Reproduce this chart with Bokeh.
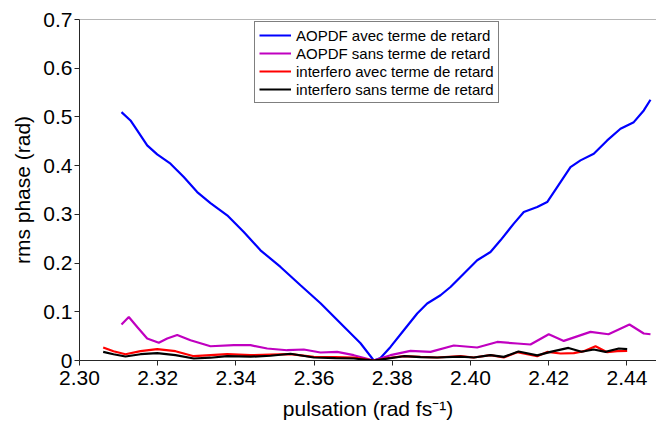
from bokeh.plotting import figure
from bokeh.models import Range1d, Span, Legend, LegendItem, FixedTicker
from bokeh.embed import file_html
from bokeh.resources import INLINE

# AOPDF avec terme de retard
blue_x = [2.31074, 2.31304, 2.31476, 2.31731, 2.31987, 2.32327, 2.32667, 2.33010, 2.33350,
          2.33777, 2.34202, 2.34629, 2.35141, 2.35652, 2.36164, 2.36675, 2.37187, 2.37527,
          2.37698, 2.37954, 2.38294, 2.38637, 2.38892, 2.39233, 2.39488, 2.39744, 2.40171,
          2.40511, 2.40767, 2.41107, 2.41363, 2.41706, 2.41961, 2.42217, 2.42557, 2.42813,
          2.43153, 2.43496, 2.43836, 2.44176, 2.44432, 2.44603]
blue_y = [0.5098, 0.4928, 0.4723, 0.4416, 0.4231, 0.4040, 0.3765, 0.3458, 0.3232,
          0.2980, 0.2637, 0.2262, 0.1920, 0.1544, 0.1175, 0.0765, 0.0355, 0.0,
          0.0053, 0.0279, 0.0621, 0.0964, 0.1169, 0.1339, 0.1509, 0.1715, 0.2057,
          0.2227, 0.2467, 0.2810, 0.3048, 0.3150, 0.3253, 0.3560, 0.3970, 0.4108,
          0.4245, 0.4518, 0.4758, 0.4893, 0.5133, 0.5353]

# AOPDF sans terme de retard
mag_x = [2.31074, 2.31261, 2.31476, 2.31731, 2.32028, 2.32243, 2.32499, 2.32839, 2.33350,
         2.33946, 2.34373, 2.34800, 2.35312, 2.35736, 2.36164, 2.36591, 2.37015, 2.37527,
         2.37954, 2.38465, 2.38977, 2.39573, 2.40171, 2.40683, 2.41194, 2.41534, 2.42002,
         2.42386, 2.43069, 2.43529, 2.44066, 2.44432, 2.44603]
mag_y = [0.0738, 0.0894, 0.0689, 0.0451, 0.0365, 0.0451, 0.0525, 0.0416, 0.0293,
         0.0314, 0.0314, 0.0246, 0.0211, 0.0226, 0.0164, 0.0176, 0.0109, 0.0,
         0.0109, 0.0197, 0.0176, 0.0308, 0.0267, 0.0381, 0.0349, 0.0328, 0.0539,
         0.0402, 0.0587, 0.0539, 0.0738, 0.0554, 0.0539]

# interfero avec terme de retard
red_x = [2.30606, 2.30870, 2.31176, 2.31560, 2.31987, 2.32455, 2.32923, 2.33350, 2.33777,
         2.34373, 2.34885, 2.35396, 2.35992, 2.36547, 2.37015, 2.37527, 2.37954, 2.38294,
         2.38721, 2.39148, 2.39744, 2.40084, 2.40511, 2.40851, 2.41194, 2.41706, 2.41961,
         2.42302, 2.42642, 2.42898, 2.43197, 2.43496, 2.43752, 2.44007]
red_y = [0.0267, 0.0191, 0.0129, 0.0191, 0.0232, 0.0191, 0.0088, 0.0109, 0.0129,
         0.0109, 0.0119, 0.0129, 0.0074, 0.0068, 0.0062, 0.0, 0.0057, 0.0088,
         0.0074, 0.0062, 0.0088, 0.0062, 0.0109, 0.0062, 0.0170, 0.0088, 0.0176,
         0.0144, 0.0150, 0.0191, 0.0293, 0.0170, 0.0191, 0.0197]

# interfero sans terme de retard
blk_x = [2.30606, 2.30870, 2.31176, 2.31560, 2.31987, 2.32455, 2.32923, 2.33350, 2.33777,
         2.34373, 2.34885, 2.35396, 2.35992, 2.36547, 2.37015, 2.37527, 2.37954, 2.38294,
         2.38721, 2.39148, 2.39744, 2.40084, 2.40511, 2.40851, 2.41227, 2.41706, 2.42046,
         2.42506, 2.42839, 2.43153, 2.43453, 2.43793, 2.44007]
blk_y = [0.0176, 0.0129, 0.0082, 0.0129, 0.0150, 0.0109, 0.0041, 0.0057, 0.0088,
         0.0078, 0.0098, 0.0139, 0.0062, 0.0047, 0.0041, 0.0, 0.0047, 0.0088,
         0.0068, 0.0062, 0.0078, 0.0062, 0.0109, 0.0074, 0.0185, 0.0105, 0.0176,
         0.0258, 0.0180, 0.0226, 0.0176, 0.0246, 0.0232]

x_ticks = [2.30, 2.32, 2.34, 2.36, 2.38, 2.40, 2.42, 2.44]
x_tick_labels = ["2.30", "2.32", "2.34", "2.36", "2.38", "2.40", "2.42", "2.44"]
y_ticks = [0, 0.1, 0.2, 0.3, 0.4, 0.5, 0.6, 0.7]
y_tick_labels = ["0", "0.1", "0.2", "0.3", "0.4", "0.5", "0.6", "0.7"]

names = ["AOPDF avec terme de retard", "AOPDF sans terme de retard",
         "interfero avec terme de retard", "interfero sans terme de retard"]

FONT = "Liberation Sans"
AX = "#262626"

p = figure(width=656, height=423, output_backend="svg", toolbar_location=None,
           x_range=Range1d(2.30, 2.44757), y_range=Range1d(0, 0.7),
           min_border_left=79, min_border_right=0, min_border_top=19, min_border_bottom=63)
p.outline_line_color = None
p.grid.grid_line_color = None
p.background_fill_color = "white"
p.border_fill_color = "white"

p.xaxis.ticker = FixedTicker(ticks=x_ticks)
p.yaxis.ticker = FixedTicker(ticks=y_ticks)
p.xaxis.major_label_overrides = {t: l for t, l in zip(x_ticks, x_tick_labels)}
p.yaxis.major_label_overrides = {t: l for t, l in zip(y_ticks, y_tick_labels)}

for ax in (p.xaxis[0], p.yaxis[0]):
    ax.axis_line_color = AX
    ax.major_tick_line_color = AX
    ax.major_tick_out = 5
    ax.major_tick_in = 0
    ax.minor_tick_line_color = None
    ax.major_label_text_font = FONT
    ax.major_label_text_font_size = "21px"
    ax.major_label_text_color = "black"
    ax.axis_label_text_font = FONT
    ax.axis_label_text_font_size = "21px"
    ax.axis_label_text_font_style = "normal"
    ax.axis_label_text_color = "black"

p.xaxis.axis_label = "pulsation (rad fs\u207b\u00b9)"
p.yaxis.axis_label = "rms phase (rad)"
p.xaxis.major_label_standoff = 5
p.xaxis.axis_label_standoff = 9
p.yaxis.major_label_standoff = 2
p.yaxis.axis_label_standoff = 6

p.add_layout(Span(location=0.7, dimension="width", line_color="#6e6e6e", line_width=1))

r1 = p.line(blue_x, blue_y, line_color="#0000ff", line_width=2.2)
r2 = p.line(mag_x, mag_y, line_color="#c000c0", line_width=2.2)
r3 = p.line(red_x, red_y, line_color="#ff0000", line_width=2.2)
r4 = p.line(blk_x, blk_y, line_color="#000000", line_width=2.2)

legend = Legend(items=[LegendItem(label=n, renderers=[r]) for n, r in zip(names, [r1, r2, r3, r4])],
                location=(175, 257), orientation="vertical")
legend.label_text_font = FONT
legend.label_text_font_size = "15px"
legend.label_text_color = "black"
legend.label_height = 18
legend.glyph_height = 18
legend.glyph_width = 32
legend.label_standoff = 5
legend.spacing = 0
legend.padding = 4
legend.margin = 0
legend.border_line_color = "black"
legend.border_line_width = 1
legend.background_fill_color = "white"
legend.background_fill_alpha = 1.0
p.add_layout(legend)

open("out.html", "w").write(file_html(p, INLINE))
